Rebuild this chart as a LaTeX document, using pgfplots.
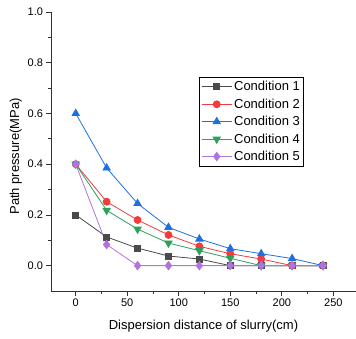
\documentclass[border=0pt]{standalone}
\usepackage{pgfplots}
\pgfplotsset{compat=1.18}
\usepackage{fontspec}
\setmainfont{Liberation Sans}
\definecolor{c1}{HTML}{4A4A4A}
\definecolor{c2}{HTML}{F03C3C}
\definecolor{c3}{HTML}{1E6FE0}
\definecolor{c4}{HTML}{2EA05A}
\definecolor{c5}{HTML}{B074E0}
\begin{document}
\begin{tikzpicture}
\begin{axis}[
  scale only axis,
  width=305pt, height=279pt,
  xmin=-24, xmax=272, ymin=-0.1, ymax=1.0,
  axis x line*=bottom, axis y line*=left,
  axis line style={thick, black!80},
  xtick={0,50,100,150,200,250},
  ytick={0,0.2,0.4,0.6,0.8,1.0},
  minor x tick num=1, minor y tick num=1,
  tick align=outside,
  major tick length=4.5pt, minor tick length=3pt,
  tick style={thick, black!80},
  yticklabel style={/pgf/number format/fixed, /pgf/number format/fixed zerofill, /pgf/number format/precision=1},
  /pgf/number format/assume math mode=true,
  ticklabel style={font=\fontsize{11}{13}\selectfont},
  xlabel={Dispersion distance of slurry(cm)},
  ylabel={Path pressure(MPa)},
  label style={font=\fontsize{13}{15}\selectfont},
  xlabel style={yshift=-6pt},
  ylabel style={yshift=-1pt, xshift=-5pt},
  legend style={at={(0.485,0.767)}, anchor=north west, draw=black, thick,
    font=\fontsize{13}{15}\selectfont, row sep=2.5pt, inner sep=2pt},
  legend cell align=left,
  legend image code/.code={\draw[mark repeat=2,mark phase=2] plot coordinates {(0pt,0pt) (15pt,0pt) (30pt,0pt)};},
  every axis plot/.append style={line width=0.8pt},
]
\addplot[c1, mark=square*, mark size=3pt, mark options={fill=c1}] coordinates {
(0,0.2) (30,0.113) (60,0.069) (90,0.038) (120,0.026) (150,0) (180,0) (210,0) (240,0)};
\addlegendentry{Condition 1}
\addplot[c2, mark=*, mark size=3.5pt, mark options={fill=c2}] coordinates {
(0,0.4) (30,0.252) (60,0.18) (90,0.121) (120,0.076) (150,0.047) (180,0.026) (210,0) (240,0)};
\addlegendentry{Condition 2}
\addplot[c3, mark=triangle*, mark size=4.2pt, mark options={fill=c3}] coordinates {
(0,0.6) (30,0.385) (60,0.245) (90,0.151) (120,0.105) (150,0.067) (180,0.047) (210,0.028) (240,0)};
\addlegendentry{Condition 3}
\addplot[c4, mark=triangle*, mark size=4.2pt, mark options={fill=c4, rotate=180}] coordinates {
(0,0.4) (30,0.218) (60,0.144) (90,0.089) (120,0.059) (150,0.029) (180,0) (210,0) (240,0)};
\addlegendentry{Condition 4}
\addplot[c5, mark=diamond*, mark size=4.2pt, mark options={fill=c5}] coordinates {
(0,0.4) (30,0.083) (60,0) (90,0) (120,0) (150,0) (180,0) (210,0) (240,0)};
\addlegendentry{Condition 5}
\end{axis}
\pgfresetboundingbox
\path (current axis.south west) ++(-51pt,-47pt);
\path (current axis.north east) ++(0pt,12pt);
\end{tikzpicture}
\end{document}
